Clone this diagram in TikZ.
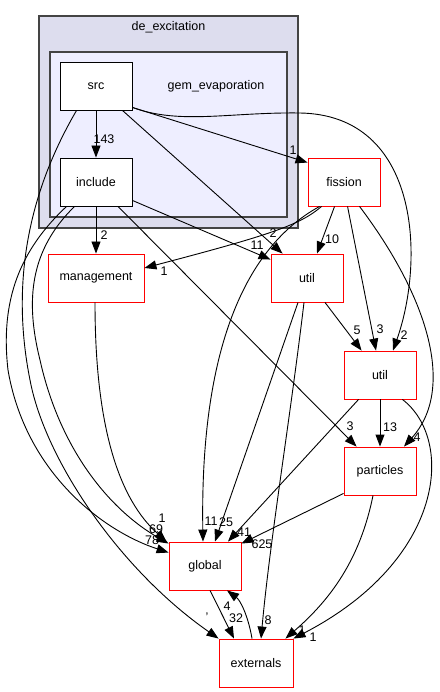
\documentclass[tikz,border=0pt]{standalone}
\usepackage{fontspec}
\setmainfont{Liberation Sans}
\usetikzlibrary{arrows.meta,calc}
\definecolor{outerfill}{HTML}{DDDDEE}
\definecolor{innerfill}{HTML}{EEEEFF}
\definecolor{clusterline}{HTML}{444444}
\begin{document}
\begin{tikzpicture}[x=1pt,y=-1pt,
  font=\fontsize{12.5}{14}\selectfont,
  cluster/.style={draw=clusterline,line width=1.2pt,inner sep=0pt},
  dirbox/.style={draw=black,fill=white,line width=0.9pt,minimum width=72pt,minimum height=48pt,inner sep=0pt},
  extbox/.style={draw=red,fill=white,line width=0.9pt,minimum width=72pt,minimum height=48pt,inner sep=0pt},
  dep/.style={-{Triangle[length=12pt,width=9pt]},line width=0.9pt},
  lbl/.style={inner sep=0pt}]
\useasboundingbox (0,0) rectangle (439,692);
% clusters
\node[cluster,fill=outerfill,minimum width=259pt,minimum height=212pt] (outer) at (168.5,122) {};
\node[lbl] (outerlbl) at (168.5,27) {de\_excitation};
\node[cluster,fill=innerfill,minimum width=237pt,minimum height=165pt] (inner) at (168.5,134.5) {};
\node[lbl] (innerlbl) at (216,86) {gem\_evaporation};
% nodes
\node[dirbox] (src) at (96,86) {src};
\node[dirbox] (include) at (96,182) {include};
\node[extbox] (fission) at (344,182) {fission};
\node[extbox,minimum width=96pt] (management) at (96,278) {management};
\node[extbox] (utilA) at (307,278) {util};
\node[extbox] (utilB) at (380,375) {util};
\node[extbox] (particles) at (380,471) {particles};
\node[extbox] (global) at (205,566) {global};
\node[extbox,minimum width=74pt] (externals) at (256,663) {externals};
% labels
\node[lbl] (l1) at (104,139) {143};
\node[lbl] (l2) at (293,150) {1};
\node[lbl] (l3) at (404,335) {2};
\node[lbl] (l4) at (273,233) {2};
\node[lbl] (l5) at (207,617) {'};
\node[lbl] (l6) at (104,235) {2};
\node[lbl] (l7) at (257,245) {11};
\node[lbl] (l8) at (350,426) {3};
\node[lbl] (l9) at (152,540) {78};
\node[lbl] (l10) at (156,529) {69};
\node[lbl] (l11) at (164,271) {1};
\node[lbl] (l12) at (332,239) {10};
\node[lbl] (l13) at (380,329) {3};
\node[lbl] (l14) at (417,437) {4};
\node[lbl] (l15) at (211,521) {11};
\node[lbl] (l16) at (357,330) {5};
\node[lbl] (l17) at (226,522) {25};
\node[lbl] (l18) at (268,620) {8};
\node[lbl] (l19) at (390,427) {13};
\node[lbl] (l20) at (244,532) {41};
\node[lbl] (l21) at (313,637) {1};
\node[lbl] (l22) at (262,544) {625};
\node[lbl] (l23) at (302,630) {1};
\node[lbl] (l24) at (227,606) {4};
\node[lbl] (l25) at (236,618) {32};
\node[lbl] (l26) at (162,518) {1};
% edges
\draw[dep] (src.south) -- (include.north);
\draw[dep] ($(src.south east)+(0,-3)$) -- ($(fission.north west)+(0,5)$);
\draw[dep] ($(src.south east)+(0,-3)$) .. controls (180,125) and (230,112) .. (300,113)
  .. controls (420,115) and (425,260) .. ($(utilB.north)+(13,0)$);
\draw[dep] ($(src.south east)+(-10,0)$) -- ($(utilA.north west)+(12,0)$);
\draw[dep] ($(src.south west)+(17,0)$) .. controls (30,190) and (10,280) .. (30,380)
  .. controls (45,460) and (120,570) .. (externals.north west);
\draw[dep] (include.south) -- (management.north);
\draw[dep] ($(include.south east)+(0,-6)$) -- ($(utilA.north west)+(0,6)$);
\draw[dep] ($(include.south)+(22,0)$) -- ($(particles.north west)+(13,0)$);
\draw[dep] ($(include.south west)+(7,0)$) .. controls (20,250) and (0,300) .. (8,370)
  .. controls (25,470) and (100,530) .. ($(global.north west)+(0,11)$);
\draw[dep] ($(include.south west)+(15,0)$) .. controls (30,250) and (25,300) .. (40,360)
  .. controls (60,450) and (110,510) .. ($(global.north west)+(0,2)$);
\draw[dep] ($(fission.south west)+(14,0)$) .. controls (300,225) and (270,235) .. ($(management.east)+(0,-10)$);
\draw[dep] ($(fission.south west)+(27,0)$) -- ($(utilA.north)+(10,0)$);
\draw[dep] ($(fission.south west)+(40,0)$) -- ($(utilB.north)+(-4,0)$);
\draw[dep] ($(fission.south west)+(52,0)$) .. controls (430,300) and (455,390) .. ($(particles.north)+(24,0)$);
\draw[dep] ($(fission.south west)+(12,0)$) .. controls (240,250) and (200,360) .. ($(global.north)+(-2,0)$);
\draw[dep] ($(utilA.south)+(18,0)$) -- ($(utilB.north west)+(18,0)$);
\draw[dep] ($(utilA.south)+(-9,0)$) -- ($(global.north)+(10,0)$);
\draw[dep] ($(utilA.south)+(-3,0)$) .. controls (290,420) and (270,540) .. ($(externals.north)+(5,0)$);
\draw[dep] (utilB.south) -- (particles.north);
\draw[dep] ($(utilB.south west)+(15,0)$) -- ($(global.north)+(23,0)$);
\draw[dep] ($(utilB.south east)+(-14,0)$) .. controls (455,440) and (445,560) .. (externals.north east);
\draw[dep] ($(particles.south west)+(0,-2)$) -- ($(global.north east)+(0,2)$);
\draw[dep] ($(particles.south)+(-7,0)$) .. controls (360,560) and (330,600) .. ($(externals.north east)+(-8,0)$);
\draw[dep] ($(global.south)+(5,0)$) -- ($(externals.north)+(-22,0)$);
\draw[dep] ($(externals.north)+(-4,0)$) .. controls (248,615) and (240,600) .. ($(global.south)+(22,0)$);
\draw[dep] ($(management.south)+(-1,0)$) .. controls (95,430) and (120,500) .. ($(global.north west)+(-2,0)$);
\end{tikzpicture}
\end{document}
